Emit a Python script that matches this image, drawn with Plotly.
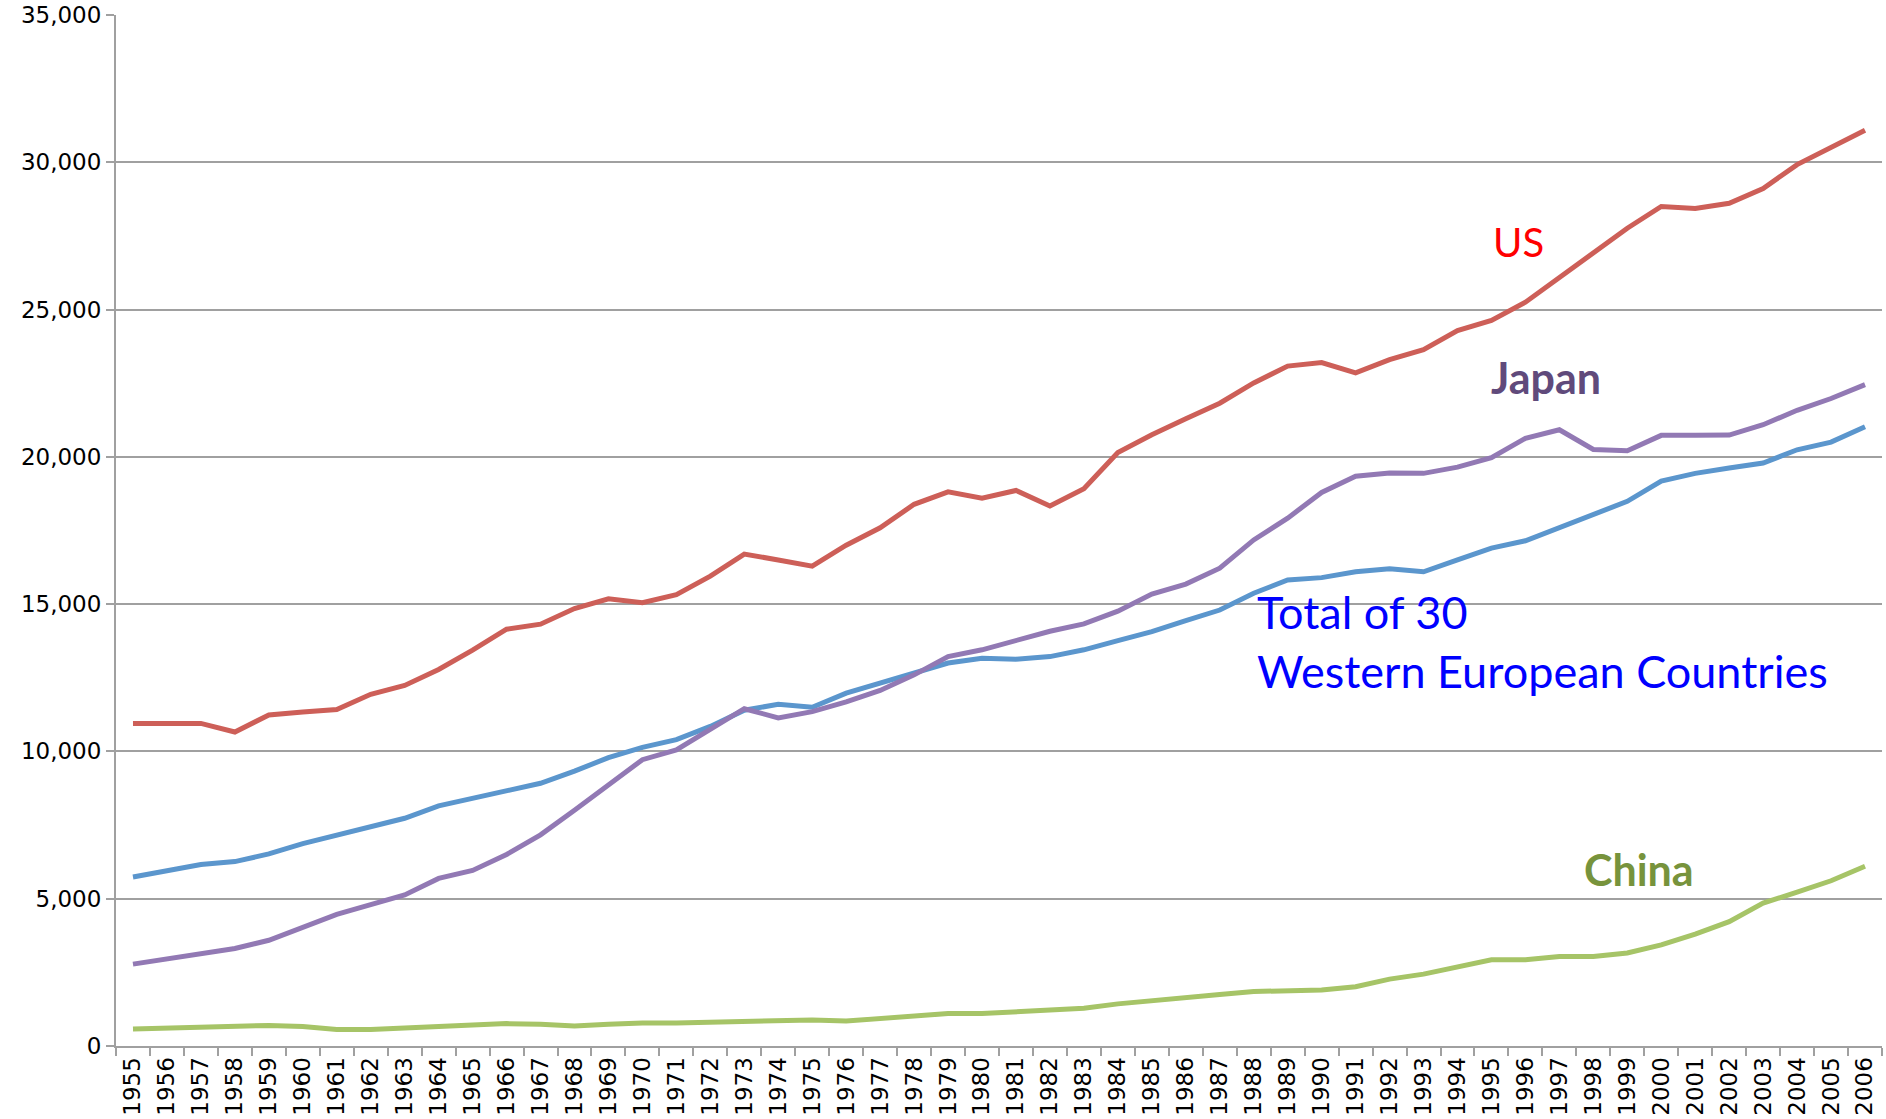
import plotly.graph_objects as go

years = [str(y) for y in range(1955, 2007)]

us = [10950, 10950, 10950, 10660, 11240, 11340, 11420, 11940, 12240, 12780,
      13440, 14150, 14320, 14850, 15180, 15050, 15320, 15950, 16700, 16500,
      16290, 17000, 17590, 18390, 18810, 18600, 18860, 18330, 18920, 20150,
      20750, 21290, 21820, 22510, 23080, 23200, 22850, 23300, 23640, 24290,
      24630, 25250, 26080, 26890, 27760, 28500, 28430, 28610, 29110, 29920,
      30510, 31090]

western_europe = [5740, 5930, 6160, 6260, 6520, 6870, 7170, 7470, 7730, 8150,
                  8400, 8660, 8920, 9330, 9790, 10140, 10400, 10850, 11400, 11600,
                  11500, 11980, 12310, 12630, 13000, 13160, 13130, 13220, 13450, 13760,
                  14070, 14440, 14800, 15370, 15820, 15900, 16100, 16200, 16100, 16500,
                  16900, 17150, 17600, 18050, 18490, 19180, 19440, 19620, 19790, 20240,
                  20500, 21020]

japan = [2780, 2960, 3170, 3310, 3590, 4020, 4470, 4800, 5130, 5690,
         5960, 6500, 7170, 8000, 8880, 9720, 10050, 10740, 11450, 11140,
         11350, 11680, 12070, 12600, 13220, 13450, 13760, 14080, 14330, 14760,
         15340, 15680, 16220, 17180, 17920, 18790, 19340, 19450, 19440, 19650,
         19970, 20630, 20920, 20250, 20210, 20730, 20730, 20740, 21090, 21580,
         21980, 22450]

china = [580, 620, 640, 700, 700, 665, 560, 560, 605, 640,
         700, 760, 735, 675, 735, 785, 785, 810, 840, 850,
         880, 845, 925, 1040, 1100, 1100, 1160, 1230, 1280, 1430,
         1550, 1630, 1750, 1850, 1880, 1900, 2010, 2270, 2440, 2670,
         2930, 2930, 3040, 3040, 3160, 3430, 3800, 4220, 4850, 5220,
         5610, 6100]

y_ticks = [0, 5000, 10000, 15000, 20000, 25000, 30000, 35000]
y_tick_labels = ["0", "5,000", "10,000", "15,000", "20,000", "25,000", "30,000", "35,000"]

series = [
    ("US", us, "#CD5F58"),
    ("Total of 30 Western European Countries", western_europe, "#5B96CD"),
    ("Japan", japan, "#9279B4"),
    ("China", china, "#A6C467"),
]

fig = go.Figure()
for name, vals, color in series:
    fig.add_trace(go.Scatter(x=years, y=vals, mode="lines", name=name,
                             line=dict(color=color, width=5), showlegend=False))

tick_font = dict(family="DejaVu Sans", size=23, color="#000000")

fig.update_layout(
    width=1886, height=1119,
    margin=dict(l=116, r=4, t=15, b=73, autoexpand=False),
    plot_bgcolor="white", paper_bgcolor="white",
    xaxis=dict(type="category", tickangle=-90, tickfont=tick_font,
               showline=True, linecolor="#A0A0A0", linewidth=2,
               ticks="outside", ticklen=8, tickcolor="#A0A0A0", tickwidth=2,
               tickson="boundaries", showgrid=False, automargin=False,
               range=[-0.5, len(years) - 0.5]),
    yaxis=dict(range=[0, 35000], tickvals=y_ticks, ticktext=y_tick_labels,
               tickfont=tick_font, showline=True, linecolor="#A0A0A0", linewidth=2,
               ticks="outside", ticklen=8, tickcolor="#A0A0A0", tickwidth=2,
               showgrid=True, gridcolor="#A0A0A0", gridwidth=2,
               zeroline=False, automargin=False),
)

annotations = [
    dict(x=40.0, y=27280, text="US", font=dict(family="Lato", size=40, color="#FF0000")),
    dict(x=39.92, y=22680, text="<b>Japan</b>", font=dict(family="Lato", size=43, color="#604A7B")),
    dict(x=33.05, y=13730, text="Total of 30<br>Western European Countries",
         font=dict(family="Lato", size=45, color="#0000FF"), align="left"),
    dict(x=42.68, y=5975, text="<b>China</b>", font=dict(family="Lato", size=43, color="#77933C")),
]
for a in annotations:
    fig.add_annotation(xref="x", yref="y", xanchor="left", yanchor="middle",
                       showarrow=False, **a)

fig.write_html("out.html", config={"displayModeBar": False},
               post_script="document.body.style.margin='0';document.body.style.overflow='hidden';")
